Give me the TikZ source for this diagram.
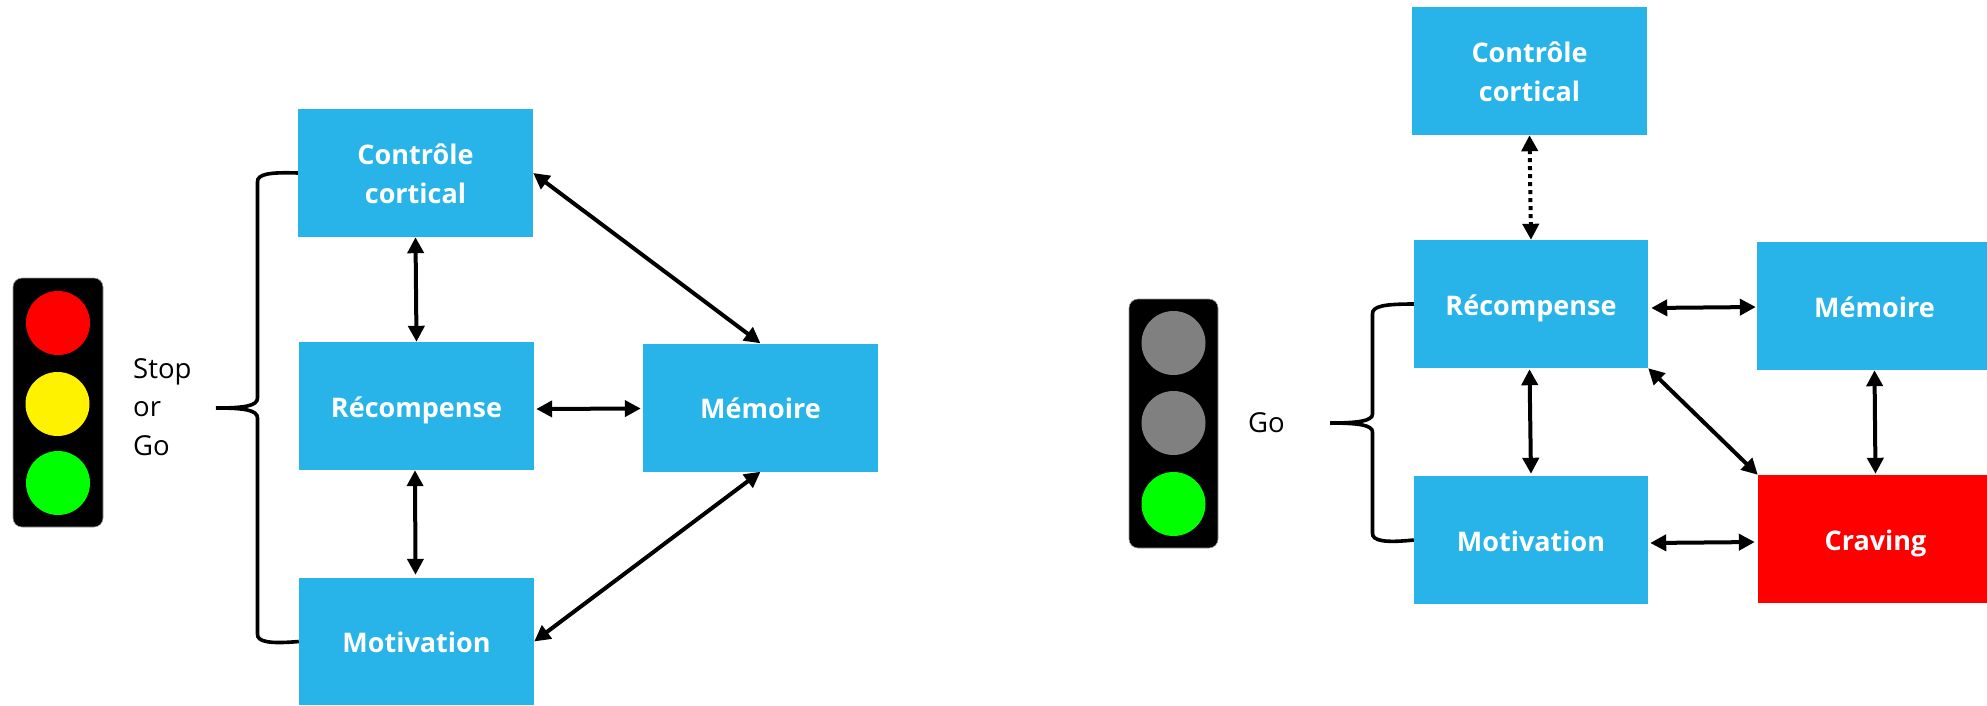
\documentclass[tikz,border=0pt]{standalone}
\usepackage{fontspec}
\setmainfont{Open Sans}
\usetikzlibrary{arrows.meta}
\definecolor{boxblue}{HTML}{29B4E9}
\definecolor{lampgray}{HTML}{808080}
\newcommand{\st}{\rule[-8pt]{0pt}{38pt}}
\tikzset{
  box/.style={fill=boxblue,text=white,inner sep=0pt,minimum width=235pt,minimum height=128pt,align=center,
    font=\fontsize{27}{39}\selectfont\bfseries},
  lbl/.style={inner sep=0pt,anchor=west,align=left,text=black,font=\fontsize{27.5}{38.5}\selectfont},
  housing/.style={fill=black,draw=black!40,line width=0.6pt,rounded corners=9pt,minimum width=90pt,minimum height=249pt,inner sep=0pt},
  lamp/.style={circle,minimum size=64pt,inner sep=0pt,fill=#1},
  link/.style={line width=4pt,{Triangle[length=16pt,width=16pt]}-{Triangle[length=16pt,width=16pt]}},
  dotlink/.style={link,dash pattern=on 4pt off 4pt},
  brace/.style={line width=3.6pt}
}
\begin{document}
\begin{tikzpicture}[x=1pt,y=-1pt]
\useasboundingbox (0,0) rectangle (1987,705);
% left panel
\node[box] (cL) at (415.5,173) {\st Contrôle\\\st cortical};
\node[box] (rL) at (416.5,406) {\st Récompense};
\node[box,minimum height=127pt] (mL) at (416.5,641.5) {\st Motivation};
\node[box] (meL) at (760.5,407.5) {\st Mémoire};
\node[housing] (tL) at (58,402.5) {};
\node[lamp=red] (t1) at (58,323) {};
\node[lamp=yellow] (t2) at (57.5,404) {};
\node[lamp=green] (t3) at (58,483) {};
\node[lbl] (sL) at (133,405.5) {\rule[-8pt]{0pt}{38pt}Stop\\or\\\rule[-8pt]{0pt}{38pt}Go};
\coordinate (bL) at (216,408);
\draw[link] (cL.south) -- (rL.north);
\draw[link] ([xshift=-1.5pt]rL.south) -- ([yshift=3pt,xshift=-1pt]mL.north);
\draw[link] (cL.east) -- (meL.north);
\draw[link] (mL.east) -- (meL.south);
\draw[link,shorten <=2pt,shorten >=2pt] ([yshift=-3pt]rL.east) -- ([yshift=-1pt]meL.west);
\draw[brace] (cL.west) .. controls (270,172) and (257,174) .. (257.5,182)
  -- (257.5,398) .. controls (257.5,406) and (244,408) .. (bL);
\draw[brace] (mL.west) .. controls (270,644) and (257,642) .. (257.5,634)
  -- (257.5,418) .. controls (257.5,410) and (244,408) .. (bL);
% right panel
\node[box] (cR) at (1529.5,71) {\st Contrôle\\\st cortical};
\node[box,minimum width=234pt] (rR) at (1531,304) {\st Récompense};
\node[box,minimum width=234pt] (mR) at (1531,540) {\st Motivation};
\node[box] (meR) at (1874.5,306) {\st Mémoire};
\node[box,fill=red] (crR) at (1875.5,539) {\st Craving};
\node[housing,minimum width=89pt] (tR) at (1173.5,423.5) {};
\node[lamp=lampgray] (g1) at (1173.5,343) {};
\node[lamp=lampgray] (g2) at (1173.5,423) {};
\node[lamp=green] (g3) at (1173.5,504) {};
\node[lbl] (sR) at (1248,421) {\rule[-8pt]{0pt}{38pt}Go};
\coordinate (bR) at (1330,423);
\draw[dotlink] (cR.south) -- (rR.north);
\draw[link,shorten <=1pt,shorten >=2pt] ([xshift=-1.5pt]rR.south) -- (mR.north);
\draw[link,shorten <=3pt,shorten >=1pt] ([yshift=-4pt]rR.east) -- ([yshift=-1pt]meR.west);
\draw[link,shorten <=2pt,shorten >=3pt] ([yshift=-3pt]mR.east) -- ([yshift=-3pt]crR.west);
\draw[link] (rR.south east) -- (crR.north west);
\draw[link,shorten >=1pt] (meR.south) -- (crR.north);
\draw[brace] (rR.west) .. controls (1385,304) and (1372,306) .. (1372.5,314)
  -- (1372.5,414) .. controls (1372.5,421) and (1358,423) .. (bR);
\draw[brace] (mR.west) .. controls (1385,543) and (1372,541) .. (1372.5,533)
  -- (1372.5,432) .. controls (1372.5,425) and (1358,423) .. (bR);
\end{tikzpicture}
\end{document}
